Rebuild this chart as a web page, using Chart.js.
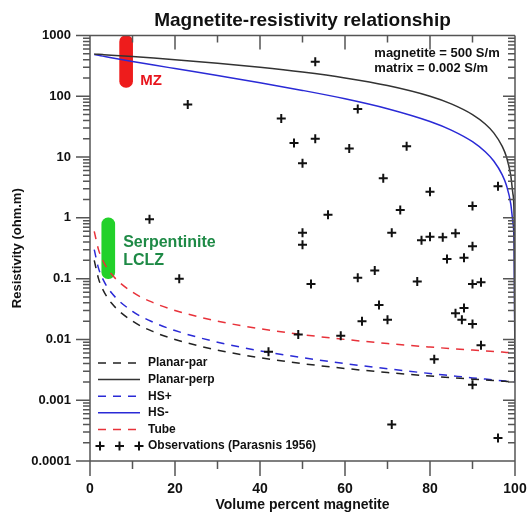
<!DOCTYPE html>
<html>
<head>
<meta charset="utf-8">
<title>Magnetite-resistivity relationship</title>
<script src="https://cdn.jsdelivr.net/npm/chart.js@4.4.0/dist/chart.umd.min.js"></script>
<style>
  html, body { margin: 0; padding: 0; background: #fff; }
</style>
</head>
<body>
<canvas id="chart" width="527" height="514"></canvas>
<script>
// model curves (magnetite = 500 S/m, matrix = 0.002 S/m)
var volPct = [1, 2, 3, 5, 10, 15, 20, 30, 40, 50, 60, 70, 80, 85, 90, 93, 95, 97, 98, 99, 99.5, 99.8, 100]
var planarPar = [0.2, 0.1, 0.0667, 0.04, 0.02, 0.0133, 0.01, 0.00667, 0.005, 0.004, 0.00333, 0.00286, 0.0025, 0.00235, 0.00222, 0.00215, 0.00211, 0.00206, 0.00204, 0.00202, 0.00201, 0.002, 0.002]
var planarPerp = [495, 490, 485, 475, 450, 425, 400, 350, 300, 250, 200, 150, 100, 75, 50, 35, 25, 15, 10, 5, 2.5, 1, 0.002]
var hsPlus = [0.3, 0.149, 0.099, 0.059, 0.029, 0.019, 0.014, 0.009, 0.0065, 0.005, 0.004, 0.00329, 0.00275, 0.00253, 0.00233, 0.00223, 0.00216, 0.00209, 0.00206, 0.00203, 0.00202, 0.002, 0.002]
var hsMinus = [485, 471, 458, 432, 375, 327, 286, 219, 167, 125, 91, 62.5, 38.5, 27.8, 17.9, 12.2, 8.6, 5.1, 3.4, 1.7, 0.84, 0.34, 0.002]
var tube = [0.6, 0.3, 0.2, 0.12, 0.06, 0.04, 0.03, 0.02, 0.015, 0.012, 0.01, 0.00857, 0.0075, 0.00706, 0.00667, 0.00645, 0.00632, 0.00619, 0.00612, 0.00606, 0.00603, 0.00601, 0.006]

// observations (Parasnis 1956)
var obsPct = [23, 53, 45, 48, 50, 53, 61, 63, 74.5, 69, 80, 96, 14, 21, 42, 49, 56, 50, 50, 71, 73, 90, 78, 80, 83, 86, 90, 84, 88, 52, 63, 67, 77, 90, 92, 68, 86, 88, 64, 70, 87.5, 90, 59, 92, 81, 90, 71, 96]
var obsRes = [73, 370, 43, 17, 7.9, 20, 13.8, 62, 15, 4.5, 2.7, 3.3, 0.95, 0.1, 0.0063, 0.012, 1.13, 0.57, 0.36, 0.57, 1.35, 1.56, 0.43, 0.49, 0.48, 0.56, 0.34, 0.21, 0.22, 0.082, 0.103, 0.136, 0.09, 0.082, 0.087, 0.037, 0.027, 0.033, 0.02, 0.021, 0.021, 0.018, 0.0115, 0.008, 0.0047, 0.0018, 0.0004, 0.00024]

// resistivity ranges of the zones
var zoneNames = ['MZ', 'Serpentinite LCLZ']
var zonePct = [8.5, 4.3]
var zoneLow = [140, 0.1]
var zoneHigh = [1000, 1]

var yTicks = [0.0001, 0.001, 0.01, 0.1, 1, 10, 100, 1000]
var yTickLabels = ['0.0001', '0.001', '0.01', '0.1', '1', '10', '100', '1000']
var legendRows = ['Planar-par', 'Planar-perp', 'HS+', 'HS-', 'Tube', 'Observations (Parasnis 1956)']

var FONT = '"Liberation Sans", Arial, sans-serif'

function curve(ys) {
    return volPct.map(function (x, i) { return {x: x, y: ys[i]} })
}

function lineSet(label, ys, color, dashed) {
    return {
        label: label,
        data: curve(ys),
        showLine: true,
        borderColor: color,
        borderWidth: 1.5,
        borderDash: dashed ? [8, 7] : [],
        pointRadius: 0,
        cubicInterpolationMode: 'monotone',
        order: 1
    }
}

var framePlugin = {
    id: 'frame',
    afterDatasetsDraw: function (chart) {
        var ctx = chart.ctx, a = chart.chartArea
        var xs = chart.scales.x, ys = chart.scales.y
        ctx.save()
        ctx.strokeStyle = '#555'
        ctx.lineWidth = 1.5
        ctx.beginPath()
        ctx.moveTo(a.left, a.top); ctx.lineTo(a.right, a.top)
        ctx.moveTo(a.left, a.bottom); ctx.lineTo(a.right, a.bottom)
        ctx.moveTo(a.left, a.top); ctx.lineTo(a.left, a.bottom + 15)
        ctx.moveTo(a.right, a.top); ctx.lineTo(a.right, a.bottom + 15)
        for (var v = 10; v < 100; v += 10) {
            var px = xs.getPixelForValue(v)
            var major = v % 20 === 0
            ctx.moveTo(px, a.bottom); ctx.lineTo(px, a.bottom + (major ? 15 : 8))
            ctx.moveTo(px, a.top); ctx.lineTo(px, a.top + (major ? 14 : 7))
        }
        for (var n = -4; n <= 3; n++) {
            for (var k = 1; k <= 9; k++) {
                var val = k * Math.pow(10, n)
                if (val > 1000) break
                var py = ys.getPixelForValue(val)
                ctx.moveTo(a.left - (k === 1 ? 14 : 7), py); ctx.lineTo(a.left, py)
                ctx.moveTo(a.right - (k === 1 ? 12 : 7), py); ctx.lineTo(a.right, py)
            }
        }
        ctx.stroke()
        ctx.restore()
    }
}

var notesPlugin = {
    id: 'notes',
    afterDraw: function (chart) {
        var ctx = chart.ctx, a = chart.chartArea
        var xs = chart.scales.x, ys = chart.scales.y
        function at(x, y) { return [xs.getPixelForValue(x), ys.getPixelForValue(y)] }
        ctx.save()
        ctx.textBaseline = 'middle'
        ctx.textAlign = 'left'

        // zone labels
        var p = at(11.8, 179)
        ctx.fillStyle = '#e8141c'
        ctx.font = 'bold 15px ' + FONT
        ctx.fillText('MZ', p[0], p[1])
        ctx.fillStyle = '#1e8a46'
        ctx.font = 'bold 16px ' + FONT
        p = at(7.8, 0.39)
        ctx.fillText('Serpentinite', p[0], p[1])
        p = at(7.8, 0.2)
        ctx.fillText('LCLZ', p[0], p[1])

        // conductivities
        ctx.fillStyle = '#111'
        ctx.font = 'bold 13px ' + FONT
        p = at(66.9, 511)
        ctx.fillText('magnetite = 500 S/m', p[0], p[1])
        p = at(66.9, 282)
        ctx.fillText('matrix = 0.002 S/m', p[0], p[1])

        // legend
        ctx.font = 'bold 12px ' + FONT
        legendRows.forEach(function (name, i) {
            var ds = chart.data.datasets.find(function (d) { return d.label === name })
            var y = a.bottom - 98 + i * 16.6
            ctx.save()
            if (ds.showLine) {
                ctx.strokeStyle = ds.borderColor
                ctx.lineWidth = ds.borderWidth
                ctx.setLineDash(ds.borderDash)
                ctx.beginPath()
                ctx.moveTo(a.left + 8, y); ctx.lineTo(a.left + 50, y)
                ctx.stroke()
            } else {
                ctx.strokeStyle = ds.borderColor
                ctx.lineWidth = 2
                ctx.beginPath();
                [10, 29.5, 49].forEach(function (dx) {
                    ctx.moveTo(a.left + dx - 4.5, y); ctx.lineTo(a.left + dx + 4.5, y)
                    ctx.moveTo(a.left + dx, y - 4.5); ctx.lineTo(a.left + dx, y + 4.5)
                })
                ctx.stroke()
            }
            ctx.restore()
            ctx.fillStyle = '#111'
            ctx.fillText(name, a.left + 58, y)
        })
        ctx.restore()
    }
}

var ctx = document.getElementById('chart').getContext('2d')
var chart = new Chart(ctx, {
    type: 'scatter',
    data: {
        datasets: [
            {
                label: 'Observations (Parasnis 1956)',
                data: obsPct.map(function (x, i) { return {x: x, y: obsRes[i]} }),
                showLine: false,
                pointStyle: 'cross',
                pointRadius: 4.5,
                pointBorderWidth: 2,
                borderColor: '#111',
                backgroundColor: '#111',
                order: 0
            },
            lineSet('Planar-par', planarPar, '#222', true),
            lineSet('Planar-perp', planarPerp, '#333', false),
            lineSet('HS+', hsPlus, '#2a2ad6', true),
            lineSet('HS-', hsMinus, '#2a2ad6', false),
            lineSet('Tube', tube, '#e8323a', true),
            {
                type: 'bar',
                label: 'zones',
                data: zonePct.map(function (x, i) { return {x: x, y: [zoneLow[i], zoneHigh[i]]} }),
                backgroundColor: ['#ee1c1c', '#22d12a'],
                barThickness: 13,
                borderRadius: 7,
                borderSkipped: false,
                order: 5
            }
        ]
    },
    options: {
        responsive: false,
        animation: false,
        events: [],
        devicePixelRatio: 1,
        layout: { padding: { left: 0, right: 12, top: 0, bottom: 0 } },
        plugins: {
            legend: { display: false },
            tooltip: { enabled: false },
            title: {
                display: true,
                text: 'Magnetite-resistivity relationship',
                fullSize: false,
                color: '#111',
                font: { family: FONT, size: 19, weight: 'bold' },
                padding: { top: 9, bottom: 3.7 }
            }
        },
        scales: {
            x: {
                type: 'linear',
                position: 'bottom',
                min: 0,
                max: 100,
                offset: false,
                grid: { display: false, drawTicks: false },
                border: { display: false },
                ticks: {
                    stepSize: 20,
                    maxRotation: 0,
                    padding: 20,
                    color: '#111',
                    font: { family: FONT, size: 14, weight: 'bold' }
                },
                title: {
                    display: true,
                    text: 'Volume percent magnetite',
                    color: '#111',
                    font: { family: FONT, size: 14, weight: 'bold' },
                    padding: { top: 0, bottom: 0 }
                },
                afterFit: function (s) { s.height = 53; s.paddingLeft = 0; s.paddingRight = 0 }
            },
            y: {
                type: 'logarithmic',
                min: 0.0001,
                max: 1000,
                grid: { display: false, drawTicks: false },
                border: { display: false },
                afterBuildTicks: function (s) {
                    s.ticks = yTicks.map(function (v) { return {value: v} })
                },
                ticks: {
                    autoSkip: false,
                    padding: 19,
                    color: '#111',
                    font: { family: FONT, size: 13, weight: 'bold' },
                    callback: function (value) {
                        var i = yTicks.indexOf(value)
                        return i >= 0 ? yTickLabels[i] : ''
                    }
                },
                title: {
                    display: true,
                    text: 'Resistivity (ohm.m)',
                    color: '#111',
                    font: { family: FONT, size: 13, weight: 'bold' },
                    padding: { top: 10, bottom: 0 }
                },
                afterFit: function (s) { s.width = 90; s.paddingTop = 0; s.paddingBottom = 0 }
            }
        }
    },
    plugins: [framePlugin, notesPlugin]
})
</script>
</body>
</html>
